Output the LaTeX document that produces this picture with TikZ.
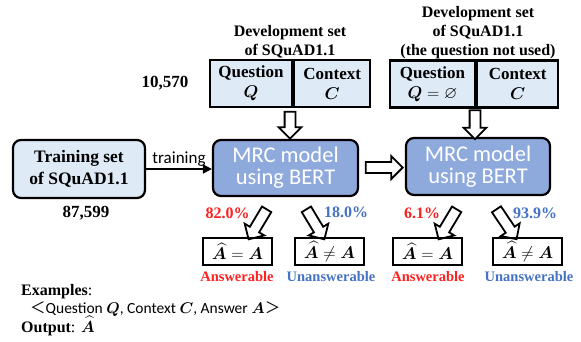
\RequirePackage{fix-cm}
\documentclass[tikz,border=0pt]{standalone}
\usepackage{amsmath,amssymb,bm}
\usepackage{fontspec}
\setmainfont{Liberation Serif}
\setsansfont{Carlito}
\newfontfamily\cjk{Noto Sans CJK JP}
\usetikzlibrary{shapes.arrows,arrows.meta}
\definecolor{lightbox}{HTML}{DEEBF7}
\definecolor{mrcblue}{HTML}{8EA9DB}
\definecolor{ansred}{HTML}{FF2020}
\definecolor{unblue}{HTML}{4472C4}
\tikzset{
  title/.style={font=\bfseries\fontsize{16}{19}\selectfont, align=center, inner sep=0pt},
  count/.style={font=\bfseries\fontsize{17}{20}\selectfont, inner sep=0pt},
  devbox/.style={draw, line width=2.2pt, fill=lightbox, minimum height=47pt, inner sep=0pt,
    align=center, font=\bfseries\fontsize{17}{20}\selectfont},
  trainbox/.style={draw, line width=2.2pt, fill=lightbox, rounded corners=8pt, minimum width=132pt,
    minimum height=58pt, align=center, font=\bfseries\fontsize{17.5}{22}\selectfont},
  mrcbox/.style={draw, line width=2.2pt, fill=mrcblue, rounded corners=8pt, minimum width=145pt,
    minimum height=56pt, align=center, text=white, font=\sffamily\fontsize{22.5}{22}\selectfont},
  blockarrow/.style={single arrow, draw, line width=1.8pt, fill=white, inner xsep=0pt,
    inner ysep=4.5pt, single arrow head extend=6pt, single arrow tip angle=90,
    minimum width=21pt, anchor=center},
  ansbox/.style={draw, line width=2.6pt, minimum width=69pt, minimum height=27pt, inner sep=0pt,
    font=\fontsize{17}{20}\selectfont},
  pct/.style={font=\bfseries\fontsize{16}{19}\selectfont, inner sep=0pt},
  anslbl/.style={font=\bfseries\fontsize{14.5}{17}\selectfont, inner sep=0pt},
  plain/.style={font=\fontsize{16}{19}\selectfont, inner sep=0pt, anchor=base west},
}
\begin{document}
\begin{tikzpicture}[x=1pt,y=-1pt]
\useasboundingbox (0,0) rectangle (581,341);
% titles
\node[title, anchor=south] (t1) at (290,58) {Development set\\of SQuAD1.1};
\node[title, anchor=south] (t2) at (478,59) {Development set\\of SQuAD1.1\\(the question not used)};
% dev boxes
\node[devbox, minimum width=82pt] (d1q) at (251,83.5) {Question\\$\bm{Q}$};
\node[devbox, minimum width=76pt, anchor=west] (d1c) at (d1q.east) {Context\\$\bm{C}$};
\node[devbox, minimum width=85pt] (d2q) at (432.5,84) {Question\\$\bm{Q}=\varnothing$};
\node[devbox, minimum width=81pt, anchor=west] (d2c) at (d2q.east) {Context\\$\bm{C}$};
\node[count] (n1) at (165,83) {10,570};
% training
\node[trainbox] (train) at (79,169) {Training set\\of SQuAD1.1};
\node[count] (n2) at (86,213) {87,599};
% MRC boxes
\node[mrcbox] (mrc1) at (285.5,168) {MRC model\\using BERT};
\node[mrcbox, minimum width=144pt, minimum height=57pt] (mrc2) at (478,166.5) {MRC model\\using BERT};
% training arrow
\draw[line width=1.8pt, -{Triangle[length=9pt,width=9pt]}] (train.east |- 0,169) -- (mrc1.west |- 0,169)
  node[midway, above=1pt, font=\sffamily\fontsize{17}{20}\selectfont, inner sep=1pt] (tr) {training};
% block arrows
\node[blockarrow, minimum height=27pt, rotate=-90] (a1) at (290,122.5) {};
\node[blockarrow, minimum height=29pt, rotate=-90] (a2) at (475,122) {};
\node[blockarrow, minimum height=37pt, minimum width=23pt] (a3) at (381.5,167.5) {};
\node[blockarrow, minimum height=35pt, minimum width=20pt, rotate=-121] (b1) at (259,222) {};
\node[blockarrow, minimum height=35pt, minimum width=20pt, rotate=-59] (b2) at (314,222) {};
\node[blockarrow, minimum height=35pt, minimum width=20pt, rotate=-121] (b3) at (449,222) {};
\node[blockarrow, minimum height=36pt, minimum width=20pt, rotate=-56] (b4) at (505,222) {};
% percentages
\node[pct, text=ansred] (p1) at (227.5,213) {82.0\%};
\node[pct, text=unblue] (p2) at (346,212) {18.0\%};
\node[pct, text=ansred] (p3) at (422,213) {6.1\%};
\node[pct, text=unblue] (p4) at (535,213) {93.9\%};
% answer boxes
\node[ansbox] (r1) at (237.5,251.5) {$\widehat{\bm{A}}=\bm{A}$};
\node[ansbox] (r2) at (329.5,251.5) {$\widehat{\bm{A}}\neq\bm{A}$};
\node[ansbox] (r3) at (427.5,251.5) {$\widehat{\bm{A}}=\bm{A}$};
\node[ansbox] (r4) at (527.5,251.5) {$\widehat{\bm{A}}\neq\bm{A}$};
\node[anslbl, text=ansred] (l1) at (237,277) {Answerable};
\node[anslbl, text=unblue] (l2) at (331,277) {Unanswerable};
\node[anslbl, text=ansred] (l3) at (428,277) {Answerable};
\node[anslbl, text=unblue] (l4) at (529,277) {Unanswerable};
% examples
\node[plain] (e1) at (21,295) {\textbf{Examples}:};
\node[plain] (e2) at (30,313) {\sffamily\fontsize{15.5}{19}\selectfont{\cjk ＜}Question $\bm{Q}$, Context $\bm{C}$, Answer $\bm{A}${\cjk ＞}};
\node[plain] (e3) at (21,332) {\textbf{Output}: $\widehat{\bm{A}}$};
\end{tikzpicture}
\end{document}
